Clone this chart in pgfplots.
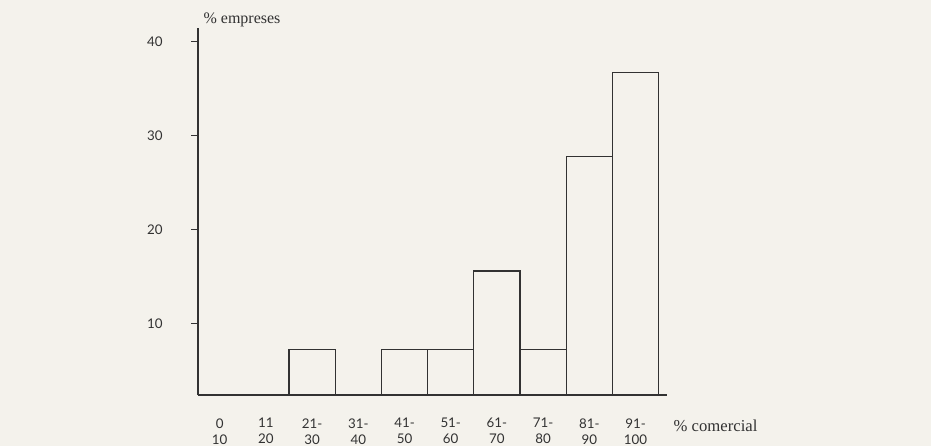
\documentclass[border=0pt]{standalone}
\usepackage{fontspec}
\setmainfont{Liberation Serif}
\newfontfamily\numfont{Lato}
\usepackage{pgfplots}
\pgfplotsset{compat=1.18}
\definecolor{paper}{RGB}{244,242,236}
\definecolor{ink}{RGB}{50,50,50}
\begin{document}
\begin{tikzpicture}
% paper background, 931x446 px at 0.75pt per px
\fill[paper] (-148.5pt,-38.25pt) rectangle ++(698.25pt,334.5pt);
\begin{axis}[
    at={(0,0)}, anchor=south west,
    x=34.65pt, y=7.05pt,
    xmin=-0.47, xmax=9.68,
    ymin=2.4, ymax=41.4,
    axis x line=bottom, axis y line=left,
    axis line style={-, ink, line width=1.1pt},
    clip mode=individual,
    xtick={0,...,9},
    xticklabels={0\\10, 11\\20, 21-\\30, 31-\\40, 41-\\50, 51-\\60, 61-\\70, 71-\\80, 81-\\90, 91-\\100},
    x tick style={draw=none},
    x tick label style={align=center, font=\numfont\fontsize{10}{12}\selectfont, text=ink, yshift=-9pt},
    ytick={10,20,30,40},
    y tick style={ink, line width=0.9pt},
    tick align=outside,
    major tick length=5pt,
    y tick label style={font=\numfont\fontsize{10}{12}\selectfont, text=ink, xshift=-18pt},
    /pgf/number format/assume math mode=true,
]
\addplot[ybar, bar width=34.65pt, bar shift=0pt, draw=ink, line width=0.9pt, fill=none]
coordinates {(0,0) (1,0) (2,7.2) (3,0) (4,7.2) (5,7.2) (6,15.6) (7,7.2) (8,27.8) (9,36.7)};
\node[anchor=south west, inner sep=1pt, xshift=3pt, text=ink, font=\fontsize{12}{13}\selectfont] at (rel axis cs:0,1) {\% empreses};
\node[anchor=west, inner sep=0pt, text=ink, font=\fontsize{12.5}{14}\selectfont] at (axis cs:9.82,-0.9) {\% comercial};
\end{axis}
\pgfresetboundingbox
\path[use as bounding box] (-148.5pt,-38.25pt) rectangle ++(698.25pt,334.5pt);
\end{tikzpicture}
\end{document}
